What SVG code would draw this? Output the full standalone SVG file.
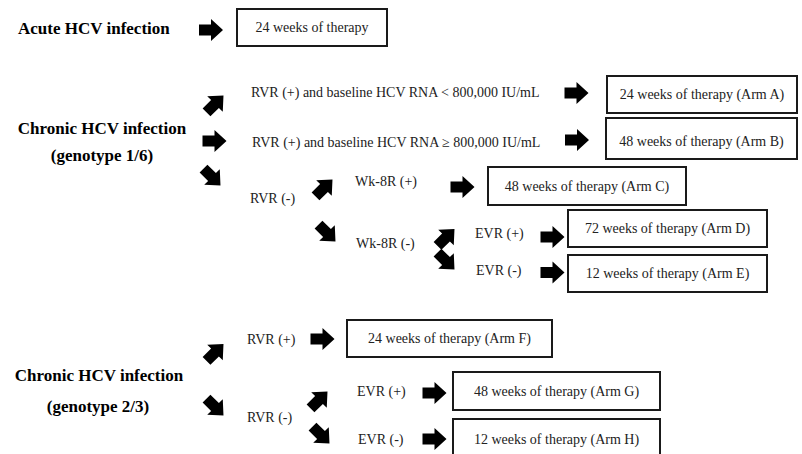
<svg xmlns="http://www.w3.org/2000/svg" xmlns:xlink="http://www.w3.org/1999/xlink" width="802" height="454" viewBox="0 0 802 454">
<style>
  .bg { fill: #ffffff; }
  .box { fill: #ffffff; stroke: #1a1a1a; stroke-width: 2; }
  text { font-family: "Liberation Serif", "Times New Roman", serif; }
  .t { font-size: 14px; fill: #222222; }
  .bt { font-size: 17px; font-weight: bold; fill: #000000; }
  .mid { text-anchor: middle; }
  .arr { fill: #000000; }
</style>
<defs>
  <path id="blk" class="arr" d="M-12,-5.5 L0,-5.5 L0,-11 L12,0 L0,11 L0,5.5 L-12,5.5 Z"/>
</defs>
<rect class="bg" x="0" y="0" width="802" height="454"/>

<g id="connectors">
  <use xlink:href="#blk" transform="translate(211,30)"/>
  <use xlink:href="#blk" transform="translate(215,104) rotate(-45)"/>
  <use xlink:href="#blk" transform="translate(214.5,141)"/>
  <use xlink:href="#blk" transform="translate(212,177) rotate(45)"/>
  <use xlink:href="#blk" transform="translate(576.5,93)"/>
  <use xlink:href="#blk" transform="translate(577,140)"/>
  <use xlink:href="#blk" transform="translate(324,188) rotate(-45)"/>
  <use xlink:href="#blk" transform="translate(462.5,187)"/>
  <use xlink:href="#blk" transform="translate(327,233) rotate(45)"/>
  <use xlink:href="#blk" transform="translate(446,237.5) rotate(-45)"/>
  <use xlink:href="#blk" transform="translate(446,261) rotate(45)"/>
  <use xlink:href="#blk" transform="translate(552.5,237)"/>
  <use xlink:href="#blk" transform="translate(552.5,272.5)"/>
  <use xlink:href="#blk" transform="translate(215,352.5) rotate(-45)"/>
  <use xlink:href="#blk" transform="translate(215,407) rotate(45)"/>
  <use xlink:href="#blk" transform="translate(322.5,339)"/>
  <use xlink:href="#blk" transform="translate(319,400) rotate(-45)"/>
  <use xlink:href="#blk" transform="translate(321,435) rotate(45)"/>
  <use xlink:href="#blk" transform="translate(434.5,393)"/>
  <use xlink:href="#blk" transform="translate(434.5,439)"/>
</g>

<g id="acute">
  <text class="bt" x="18" y="34">Acute HCV infection</text>
</g>
<g id="acute-therapy">
  <rect class="box" x="237" y="9" width="150" height="37"/>
  <text class="t mid" x="312" y="32">24 weeks of therapy</text>
</g>

<g id="chronic-16">
  <text class="bt mid" x="102" y="134">Chronic HCV infection</text>
  <text class="bt mid" x="102" y="161">(genotype 1/6)</text>
</g>
<g id="rvr-low">
  <text class="t" x="251" y="97">RVR (+) and baseline HCV RNA &lt; 800,000 IU/mL</text>
</g>
<g id="rvr-high">
  <text class="t" x="252" y="147">RVR (+) and baseline HCV RNA ≥ 800,000 IU/mL</text>
</g>
<g id="arm-a">
  <rect class="box" x="607" y="76" width="190" height="37"/>
  <text class="t mid" x="702" y="99">24 weeks of therapy (Arm A)</text>
</g>
<g id="arm-b">
  <rect class="box" x="606" y="118" width="191" height="41"/>
  <text class="t mid" x="701.5" y="146">48 weeks of therapy (Arm B)</text>
</g>
<g id="rvr-neg-16">
  <text class="t" x="250" y="203">RVR (-)</text>
</g>
<g id="wk8-pos">
  <text class="t" x="355" y="186">Wk-8R (+)</text>
</g>
<g id="arm-c">
  <rect class="box" x="488" y="167" width="198" height="38"/>
  <text class="t mid" x="587" y="191">48 weeks of therapy (Arm C)</text>
</g>
<g id="wk8-neg">
  <text class="t" x="356" y="248">Wk-8R (-)</text>
</g>
<g id="evr-pos-16">
  <text class="t" x="475" y="238">EVR (+)</text>
</g>
<g id="evr-neg-16">
  <text class="t" x="476" y="275">EVR (-)</text>
</g>
<g id="arm-d">
  <rect class="box" x="568" y="210" width="199" height="37"/>
  <text class="t mid" x="667.5" y="233">72 weeks of therapy (Arm D)</text>
</g>
<g id="arm-e">
  <rect class="box" x="568" y="255" width="199" height="37"/>
  <text class="t mid" x="667.5" y="278">12 weeks of therapy (Arm E)</text>
</g>

<g id="chronic-23">
  <text class="bt mid" x="99" y="381">Chronic HCV infection</text>
  <text class="bt mid" x="98" y="412">(genotype 2/3)</text>
</g>
<g id="rvr-pos-23">
  <text class="t" x="247" y="344">RVR (+)</text>
</g>
<g id="arm-f">
  <rect class="box" x="347" y="320" width="205" height="37"/>
  <text class="t mid" x="449.5" y="343">24 weeks of therapy (Arm F)</text>
</g>
<g id="rvr-neg-23">
  <text class="t" x="247" y="422">RVR (-)</text>
</g>
<g id="evr-pos-23">
  <text class="t" x="357" y="396">EVR (+)</text>
</g>
<g id="evr-neg-23">
  <text class="t" x="358" y="444">EVR (-)</text>
</g>
<g id="arm-g">
  <rect class="box" x="453" y="372" width="207" height="38"/>
  <text class="t mid" x="556.5" y="396">48 weeks of therapy (Arm G)</text>
</g>
<g id="arm-h">
  <rect class="box" x="453" y="419" width="207" height="42"/>
  <text class="t mid" x="556.5" y="444">12 weeks of therapy (Arm H)</text>
</g>
</svg>
